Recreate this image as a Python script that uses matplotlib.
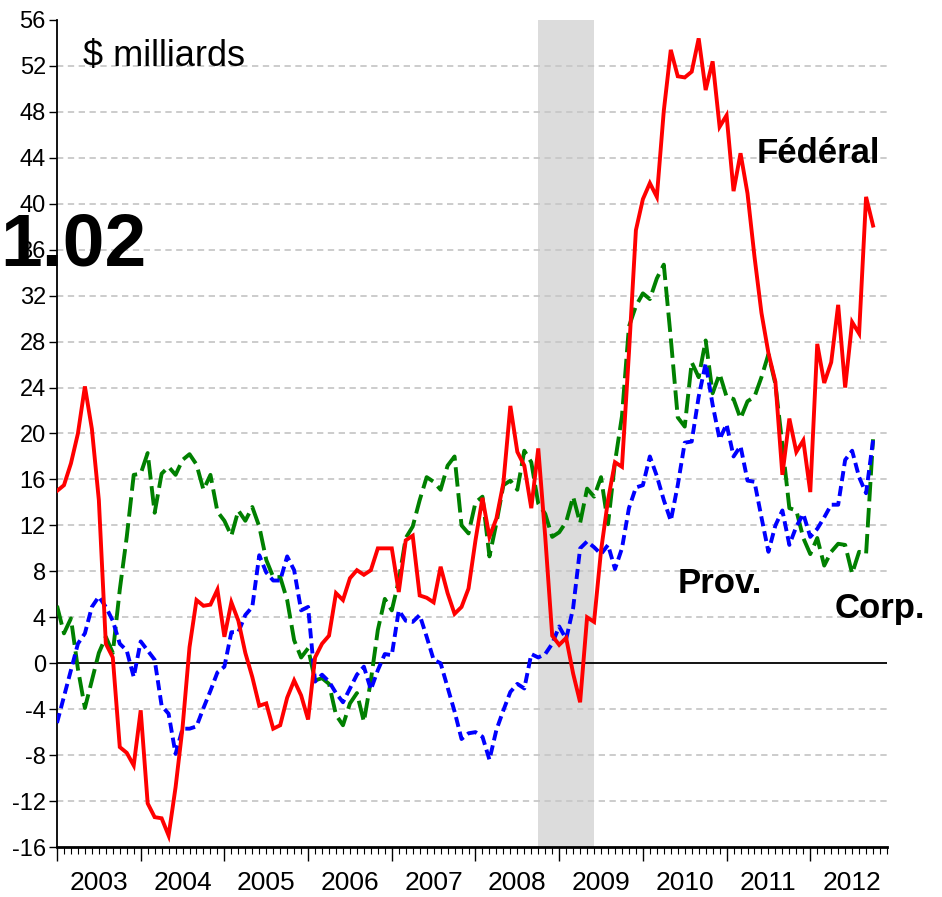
import numpy as np
import matplotlib
matplotlib.use("Agg")
import matplotlib.pyplot as plt
from matplotlib import transforms

# ---- data (monthly, Jan 2003 = index 0) ----
federal = [15.0, 15.5, 17.4, 20.0, 24.1, 20.4, 14.2, 1.7, 0.5, -7.3,
           -7.8, -8.9, -4.1, -12.2, -13.4, -13.5, -15.0, -10.8, -5.6, 1.4,
           5.5, 5.0, 5.1, 6.4, 2.3, 5.3, 3.7, 0.9, -1.2, -3.7,
           -3.5, -5.7, -5.4, -3.0, -1.5, -2.8, -4.9, 0.5, 1.7, 2.4,
           6.1, 5.5, 7.4, 8.1, 7.7, 8.1, 10.0, 10.0, 10.0, 6.2,
           10.7, 11.1, 5.9, 5.7, 5.3, 8.4, 6.1, 4.3, 4.9, 6.5,
           10.7, 14.4, 11.0, 12.6, 15.7, 22.4, 18.4, 17.2, 13.5, 18.7,
           11.0, 2.4, 1.6, 2.2, -0.9, -3.4, 4.0, 3.6, 9.8, 14.2,
           17.5, 17.1, 27.0, 37.7, 40.4, 41.8, 40.6, 48.1, 53.4, 51.1,
           51.0, 51.5, 54.4, 49.9, 52.4, 46.7, 47.7, 41.1, 44.4, 40.9,
           35.4, 30.5, 27.0, 24.5, 16.4, 21.3, 18.4, 19.4, 14.9, 27.8,
           24.4, 26.2, 31.2, 24.0, 29.7, 28.7, 40.6, 38.1]

corp = [5.0, 2.6, 3.9, -0.5, -3.9, -1.5, 0.9, 2.3, 0.9, 6.4,
        11.0, 16.4, 16.5, 18.3, 13.1, 16.5, 17.1, 16.4, 17.7, 18.2,
        17.3, 15.1, 16.4, 13.2, 12.4, 11.1, 13.3, 12.4, 13.6, 11.9,
        9.0, 7.5, 7.5, 5.5, 2.0, 0.5, 1.3, -1.5, -1.3, -1.8,
        -4.5, -5.4, -3.5, -2.6, -5.1, -1.5, 2.9, 5.6, 4.6, 7.2,
        10.9, 11.9, 14.2, 16.2, 15.8, 15.1, 17.2, 18.0, 12.0, 11.3,
        14.0, 14.5, 9.3, 12.2, 15.5, 15.9, 15.1, 18.5, 17.5, 13.9,
        13.0, 11.0, 11.4, 12.3, 14.5, 12.2, 15.2, 14.5, 16.2, 12.1,
        17.5, 21.5, 29.3, 31.1, 32.2, 31.7, 33.5, 34.7, 28.3, 21.4,
        20.6, 26.2, 24.9, 28.1, 23.5, 25.2, 23.2, 23.0, 21.3, 22.8,
        23.2, 24.9, 26.9, 24.3, 19.0, 13.5, 13.3, 10.9, 9.5, 10.9,
        8.5, 9.7, 10.4, 10.3, 7.8, 9.7, 9.5, 19.5]

prov = [-5.2, -2.9, -0.6, 1.7, 2.6, 4.9, 5.8, 4.9, 3.7, 1.7,
        1.1, -1.2, 1.9, 1.1, 0.3, -3.7, -4.4, -7.9, -5.7, -5.7,
        -5.5, -3.9, -2.4, -0.8, -0.3, 2.7, 2.7, 4.2, 4.9, 9.4,
        7.9, 7.2, 7.2, 9.3, 8.1, 4.6, 4.9, -1.6, -1.0, -1.6,
        -2.6, -3.4, -2.2, -1.0, -0.3, -2.3, -0.6, 0.8, 0.7, 4.6,
        3.7, 3.6, 4.2, 2.3, 0.3, 0.0, -2.1, -4.2, -6.6, -6.1,
        -6.0, -6.4, -8.4, -5.8, -4.1, -2.5, -1.8, -2.2, 0.8, 0.5,
        0.8, 1.7, 3.2, 2.1, 4.8, 10.0, 10.6, 10.1, 9.5, 10.3,
        8.2, 10.0, 13.5, 15.3, 15.5, 18.0, 16.3, 14.2, 12.4, 15.5,
        19.2, 19.3, 23.2, 26.1, 22.5, 19.5, 20.8, 18.0, 18.9, 15.9,
        15.8, 12.7, 9.7, 12.0, 13.3, 10.3, 11.9, 13.0, 11.0, 11.7,
        12.7, 13.8, 13.8, 17.7, 18.5, 16.2, 14.8, 19.4]

years = [2003, 2004, 2005, 2006, 2007, 2008, 2009, 2010, 2011, 2012]
yticks = list(range(-16, 57, 4))
recession = (69, 77)  # Oct 2008 - Jun 2009 (month index)

FONT = ['Liberation Sans', 'DejaVu Sans']

W, H = 942, 897
fig = plt.figure(figsize=(W / 100, H / 100), dpi=100)
ax = fig.add_axes([57 / W, 1 - 847 / H, 830 / W, 827 / H])

x = np.arange(len(federal))

ax.axvspan(recession[0], recession[1], color='#dcdcdc', lw=0, zorder=0)
for v in yticks[1:-1]:
    if v == 0:
        continue
    ax.axhline(v, color='#c8c8c8', lw=1.3, ls=(0, (3.5, 2.5)), zorder=1)
ax.axhline(0, color='black', lw=1.3, zorder=2)

ax.plot(x, corp, color='#008000', lw=2.8, ls=(0, (5.0, 1.7)),
        dash_capstyle='butt', zorder=3)
ax.plot(x, prov, color='#0000ff', lw=2.8, ls=(0, (2.6, 1.3)),
        dash_capstyle='butt', zorder=4)
ax.plot(x, federal, color='#ff0000', lw=2.8, solid_joinstyle='miter', zorder=5)

ax.set_xlim(0, 119)
ax.set_ylim(-16, 56)
ax.spines['top'].set_visible(False)
ax.spines['right'].set_visible(False)
ax.spines['left'].set_linewidth(1.3)
ax.spines['bottom'].set_linewidth(2.0)

ax.set_yticks(yticks)
ax.set_yticklabels([str(v) for v in yticks], family=FONT, fontsize=17)
ax.tick_params(axis='y', length=6, width=1, pad=2)

ax.set_xticks([12 * k for k in range(10)])
ax.set_xticklabels([])
ax.set_xticks(np.arange(0, 120, 1), minor=True)
ax.tick_params(axis='x', which='major', length=10, width=1)
ax.tick_params(axis='x', which='minor', length=5, width=0.8)

trans = transforms.blended_transform_factory(ax.transData, fig.transFigure)
for k, yr in enumerate(years):
    ax.text(12 * k + 6, 1 - 895 / H, str(yr), transform=trans, ha='center',
            va='bottom', family=FONT, fontsize=19)

fig.text(83 / W, 1 - 66 / H, '$ milliards', family=FONT, fontsize=26,
         ha='left', va='baseline')
fig.text(0, 1 - 266 / H, '1.02', family=FONT, fontsize=54,
         fontweight='bold', ha='left', va='baseline')
fig.text(757 / W, 1 - 163 / H, 'Fédéral', family=FONT, fontsize=25,
         fontweight='bold', ha='left', va='baseline')
fig.text(678 / W, 1 - 593 / H, 'Prov.', family=FONT, fontsize=25,
         fontweight='bold', ha='left', va='baseline')
fig.text(835 / W, 1 - 618 / H, 'Corp.', family=FONT, fontsize=25,
         fontweight='bold', ha='left', va='baseline')

fig.savefig('out.png', dpi=100)
